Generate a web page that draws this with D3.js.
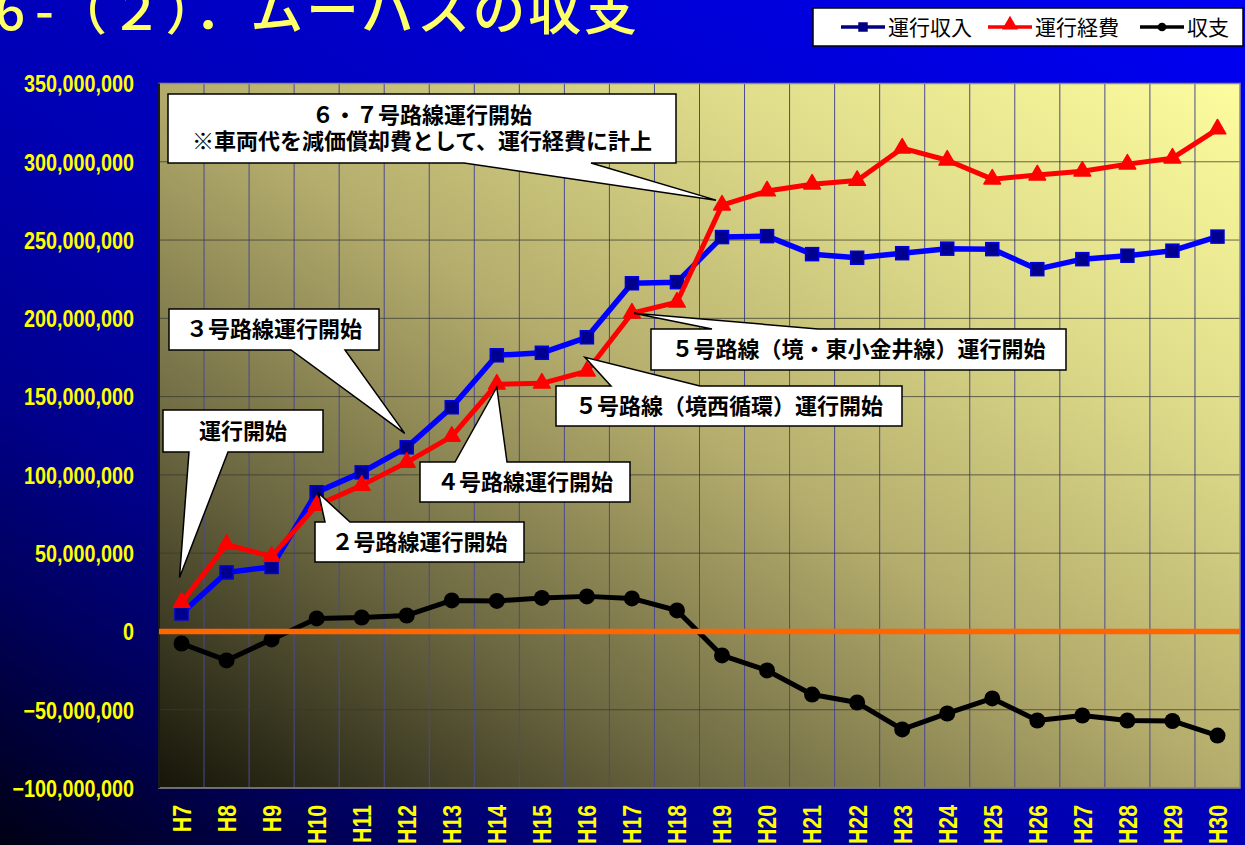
<!DOCTYPE html>
<html>
<head>
<meta charset="utf-8">
<script src="https://cdnjs.cloudflare.com/ajax/libs/d3/7.8.5/d3.min.js"></script>
<style>
  html, body { margin: 0; padding: 0; overflow: hidden; background: #000060; }
  svg { display: block; }
</style>
</head>
<body>
<div id="chart"></div>
<script>
// fiscal years (Heisei)
let years = ["H7", "H8", "H9", "H10", "H11", "H12", "H13", "H14", "H15", "H16", "H17", "H18",
             "H19", "H20", "H21", "H22", "H23", "H24", "H25", "H26", "H27", "H28", "H29", "H30"];

// 運行収入 (yen)
let revenue = [11500000, 37700000, 41200000, 88900000, 101600000, 117600000, 143200000, 176400000,
               178000000, 187900000, 222400000, 223100000, 251900000, 252500000, 241000000, 238700000,
               241600000, 244500000, 244200000, 231400000, 237800000, 240000000, 243200000, 252200000];

// 運行経費 (yen)
let expense = [18500000, 55500000, 47900000, 80500000, 93300000, 108000000, 124600000, 157900000,
               158500000, 166200000, 203300000, 210300000, 272300000, 281300000, 285700000, 288000000,
               308700000, 301000000, 288900000, 291500000, 294000000, 298500000, 302300000, 320900000];

// 収支 (yen)
let balance = [-7700000, -18500000, -5100000, 8300000, 8900000, 10200000, 19800000, 19500000,
               21400000, 22400000, 21100000, 13400000, -15300000, -24900000, -40300000, -45400000,
               -62600000, -52400000, -42800000, -56900000, -53700000, -56900000, -57200000, -66500000];

let yTicks = [-100000000, -50000000, 0, 50000000, 100000000, 150000000, 200000000, 250000000, 300000000, 350000000];

let seriesNames = ["運行収入", "運行経費", "収支"];

let W = 1245, H = 845;
let plot = { left: 159, right: 1240, top: 83.5, bottom: 788 };

let svg = d3.select("#chart").append("svg")
  .attr("width", W)
  .attr("height", H);

let defs = svg.append("defs");

// page background, dark bottom-left -> bright blue top-right
let bg = defs.append("linearGradient").attr("id", "pageBg")
  .attr("x1", 0).attr("y1", 1).attr("x2", 1).attr("y2", 0);
[[0, "#000014"], [0.15, "#00005c"], [0.27, "#00008c"], [0.45, "#0000b4"], [1, "#0000f4"]]
  .forEach(s => bg.append("stop").attr("offset", s[0]).attr("stop-color", s[1]));

// plot area background, dark olive bottom-left -> pale yellow top-right
let pg = defs.append("linearGradient").attr("id", "plotBg")
  .attr("x1", 0).attr("y1", 1).attr("x2", 1).attr("y2", 0);
[[0, "#151509"], [0.25, "#6a6640"], [0.5, "#b4ac6c"], [0.75, "#dedc8a"], [1, "#fdfc9e"]]
  .forEach(s => pg.append("stop").attr("offset", s[0]).attr("stop-color", s[1]));

svg.append("rect")
  .attr("width", W).attr("height", H)
  .attr("fill", "url(#pageBg)");

// title (partly cut off at the top, as in the slide)
let titleStyle = sel => sel
  .attr("y", 30)
  .attr("fill", "#ffff66")
  .style("font-family", "'Noto Sans CJK JP', sans-serif")
  .style("font-weight", 500)
  .style("font-size", "53px");
svg.append("text").call(titleStyle).attr("x", -5).text("6");
svg.append("text").call(titleStyle).attr("x", 35).text("-");
svg.append("text").call(titleStyle)
  .attr("x", 54)
  .attr("textLength", 583)
  .attr("lengthAdjust", "spacing")
  .text("（２）．ムーバスの収支");

// scales
let x = d3.scaleBand()
  .domain(years)
  .range([plot.left, plot.right])
  .padding(0);

let y = d3.scaleLinear()
  .domain([-100000000, 350000000])
  .range([plot.bottom, plot.top]);

// plot area
svg.append("rect")
  .attr("x", plot.left).attr("y", plot.top)
  .attr("width", plot.right - plot.left)
  .attr("height", plot.bottom - plot.top)
  .attr("fill", "url(#plotBg)");

// vertical gridlines between categories
svg.append("g").selectAll("line")
  .data(years.slice(1))
  .enter().append("line")
    .attr("x1", d => x(d)).attr("x2", d => x(d))
    .attr("y1", plot.top).attr("y2", plot.bottom)
    .attr("stroke", "#4a4a90")
    .attr("stroke-width", 1);

// horizontal gridlines
svg.append("g").selectAll("line")
  .data(yTicks)
  .enter().append("line")
    .attr("x1", plot.left).attr("x2", plot.right)
    .attr("y1", d => y(d)).attr("y2", d => y(d))
    .attr("stroke", "#3a3a30")
    .attr("stroke-opacity", 0.75)
    .attr("stroke-width", 1);

// frame
svg.append("rect")
  .attr("x", plot.left).attr("y", plot.top)
  .attr("width", plot.right - plot.left)
  .attr("height", plot.bottom - plot.top)
  .attr("fill", "none")
  .attr("stroke", "#8a8a8a")
  .attr("stroke-width", 1.5);
svg.append("line")
  .attr("x1", plot.left).attr("x2", plot.left)
  .attr("y1", plot.top).attr("y2", plot.bottom)
  .attr("stroke", "#1a1a1a")
  .attr("stroke-width", 2);

// y axis labels
let yAxis = svg.append("g")
  .attr("transform", "translate(134,0)")
  .call(d3.axisLeft(y).tickValues(yTicks).tickFormat(d3.format(",")).tickSize(0).tickPadding(0));
yAxis.select(".domain").remove();
yAxis.selectAll("text")
  .attr("x", 0)
  .attr("dy", "0.36em")
  .attr("transform", "scale(0.86,1)")
  .attr("fill", "#ffff00")
  .style("font-family", "'Liberation Sans', Arial, sans-serif")
  .style("font-weight", "bold")
  .style("font-size", "23px");

// x axis labels (rotated)
let xAxis = svg.append("g")
  .attr("transform", "translate(0,805)")
  .call(d3.axisBottom(x).tickSize(0).tickPadding(0));
xAxis.select(".domain").remove();
xAxis.selectAll("text")
  .attr("x", 0).attr("y", 0)
  .attr("dy", "0.36em")
  .attr("text-anchor", "end")
  .attr("transform", "rotate(-90) scale(0.82,1)")
  .attr("fill", "#ffff00")
  .style("font-family", "'Liberation Sans', Arial, sans-serif")
  .style("font-weight", "bold")
  .style("font-size", "26px");

// series lines
let line = d3.line()
  .x((d, i) => x(years[i]) + x.bandwidth() / 2)
  .y(d => y(d));

let cx = (d, i) => x(years[i]) + x.bandwidth() / 2;

svg.append("path")
  .attr("d", line(revenue))
  .attr("fill", "none")
  .attr("stroke", "#0000ff")
  .attr("stroke-width", 5.5)
  .attr("stroke-linejoin", "round");
svg.append("g").selectAll("rect")
  .data(revenue)
  .enter().append("rect")
    .attr("x", (d, i) => cx(d, i) - 6.5)
    .attr("y", d => y(d) - 6.5)
    .attr("width", 13).attr("height", 13)
    .attr("fill", "#000090")
    .attr("stroke", "#0000e0")
    .attr("stroke-width", 1.5);

svg.append("path")
  .attr("d", line(expense))
  .attr("fill", "none")
  .attr("stroke", "#ff0000")
  .attr("stroke-width", 5)
  .attr("stroke-linejoin", "round");
svg.append("g").selectAll("path")
  .data(expense)
  .enter().append("path")
    .attr("d", d3.symbol(d3.symbolTriangle, 120))
    .attr("transform", (d, i) => "translate(" + cx(d, i) + "," + y(d) + ")")
    .attr("fill", "#ff0000")
    .attr("stroke", "#ff0000")
    .attr("stroke-width", 1.5)
    .attr("stroke-linejoin", "round");

svg.append("path")
  .attr("d", line(balance))
  .attr("fill", "none")
  .attr("stroke", "#000000")
  .attr("stroke-width", 5)
  .attr("stroke-linejoin", "round");
svg.append("g").selectAll("circle")
  .data(balance)
  .enter().append("circle")
    .attr("cx", cx)
    .attr("cy", d => y(d))
    .attr("r", 8)
    .attr("fill", "#000000");

// zero line
svg.append("line")
  .attr("x1", plot.left).attr("x2", plot.right)
  .attr("y1", y(0)).attr("y2", y(0))
  .attr("stroke", "#ff6600")
  .attr("stroke-width", 5.5);

// callouts: box in px, tail tip points at a data point (+ small offset)
let callouts = [
  { lines: ["６・７号路線運行開始", "※車両代を減価償却費として、運行経費に計上"],
    box: [168, 94, 508, 69], side: "bottom", base: [464, 591], at: ["H19", expense, -6, -5] },
  { lines: ["運行開始"],
    box: [163, 410, 160, 42], side: "bottom", base: [189, 228], at: ["H7", expense, -2, -25] },
  { lines: ["３号路線運行開始"],
    box: [169, 309, 210, 41], side: "bottom", base: [291, 345], at: ["H12", revenue, -2, -14] },
  { lines: ["４号路線運行開始"],
    box: [420, 462, 210, 40], side: "top", base: [455, 507], at: ["H14", expense, 0, 3] },
  { lines: ["２号路線運行開始"],
    box: [315, 522, 209, 40], side: "top", base: [325, 350], at: ["H10", revenue, 2, 1] },
  { lines: ["５号路線（境西循環）運行開始"],
    box: [556, 386, 346, 40], side: "top", base: [611, 700], at: ["H16", expense, -2, -14] },
  { lines: ["５号路線（境・東小金井線）運行開始"],
    box: [651, 329, 415, 41], side: "top", base: [712, 818], at: ["H17", expense, 2, 0] }
];

function calloutPath(c) {
  let x0 = c.box[0], y0 = c.box[1], x1 = x0 + c.box[2], y1 = y0 + c.box[3];
  let i = years.indexOf(c.at[0]);
  let tx = x(c.at[0]) + x.bandwidth() / 2 + c.at[2];
  let ty = y(c.at[1][i]) + c.at[3];
  if (c.side == "bottom") {
    return "M" + x0 + "," + y0 + "H" + x1 + "V" + y1 + "H" + c.base[1] +
           "L" + tx + "," + ty + "L" + c.base[0] + "," + y1 + "H" + x0 + "Z";
  }
  return "M" + x0 + "," + y0 + "H" + c.base[0] + "L" + tx + "," + ty +
         "L" + c.base[1] + "," + y0 + "H" + x1 + "V" + y1 + "H" + x0 + "Z";
}

let notes = svg.append("g").selectAll("g")
  .data(callouts)
  .enter().append("g");

notes.append("path")
  .attr("d", calloutPath)
  .attr("fill", "#ffffff")
  .attr("stroke", "#000000")
  .attr("stroke-width", 1.5)
  .attr("stroke-linejoin", "miter");

notes.each(function(c) {
  let g = d3.select(this);
  let midX = c.box[0] + c.box[2] / 2;
  let midY = c.box[1] + c.box[3] / 2;
  let n = c.lines.length;
  c.lines.forEach((t, k) => {
    g.append("text")
      .attr("x", midX)
      .attr("y", midY + (k - (n - 1) / 2) * 26)
      .attr("dy", "0.36em")
      .attr("text-anchor", "middle")
      .attr("fill", "#000000")
      .style("font-family", "'Noto Sans CJK JP', sans-serif")
      .style("font-weight", 700)
      .style("font-size", "22px")
      .text(t);
  });
});

// legend
let legend = svg.append("g");
legend.append("rect")
  .attr("x", 813).attr("y", 8)
  .attr("width", 430).attr("height", 38)
  .attr("fill", "#ffffff")
  .attr("stroke", "#000000")
  .attr("stroke-width", 1.5);

let legendItems = [
  { name: seriesNames[0], color: "#000080", x: 841, marker: "square" },
  { name: seriesNames[1], color: "#ff0000", x: 988, marker: "triangle" },
  { name: seriesNames[2], color: "#000000", x: 1140, marker: "circle" }
];

legendItems.forEach(item => {
  let g = legend.append("g");
  g.append("line")
    .attr("x1", item.x).attr("x2", item.x + 44)
    .attr("y1", 27).attr("y2", 27)
    .attr("stroke", item.color)
    .attr("stroke-width", 3.5);
  let sym = item.marker == "square" ? d3.symbolSquare : item.marker == "triangle" ? d3.symbolTriangle : d3.symbolCircle;
  let size = item.marker == "square" ? 90 : item.marker == "triangle" ? 110 : 60;
  g.append("path")
    .attr("d", d3.symbol(sym, size))
    .attr("transform", "translate(" + (item.x + 22) + "," + (item.marker == "triangle" ? 25 : 27) + ")")
    .attr("fill", item.color);
  g.append("text")
    .attr("x", item.x + 47)
    .attr("y", 27)
    .attr("dy", "0.36em")
    .attr("fill", "#000000")
    .style("font-family", "'Noto Sans CJK JP', sans-serif")
    .style("font-size", "21px")
    .text(item.name);
});
</script>
</body>
</html>
